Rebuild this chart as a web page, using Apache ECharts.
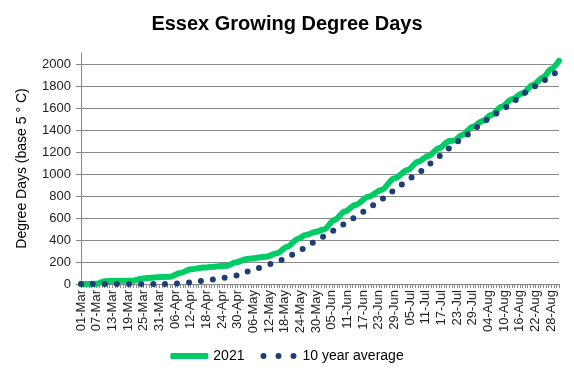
<!DOCTYPE html>
<html>
<head>
<meta charset="utf-8">
<script src="https://cdn.jsdelivr.net/npm/echarts@6/dist/echarts.min.js"></script>
<style>
  html, body { margin: 0; padding: 0; background: #fff; }
  #chart { width: 574px; height: 378px; }
</style>
</head>
<body>
<div id="chart"></div>
<script>
// x axis: every day 01-Mar .. 31-Aug
const months = ['Mar', 'Apr', 'May', 'Jun', 'Jul', 'Aug'];
const monthDays = [31, 30, 31, 30, 31, 31];
const categories = [];
months.forEach((m, i) => {
  for (let d = 1; d <= monthDays[i]; d++) {
    categories.push((d < 10 ? '0' + d : '' + d) + '-' + m);
  }
});

const yTicks = [0, 200, 400, 600, 800, 1000, 1200, 1400, 1600, 1800, 2000];

const dates2021 = ['01-Mar', '07-Mar', '10-Mar', '15-Mar', '21-Mar', '24-Mar', '29-Mar', '04-Apr', '08-Apr', '12-Apr',
  '17-Apr', '22-Apr', '26-Apr', '29-Apr', '04-May', '11-May', '15-May', '19-May', '23-May', '26-May',
  '30-May', '02-Jun', '06-Jun', '10-Jun', '14-Jun', '19-Jun', '24-Jun', '29-Jun', '04-Jul', '08-Jul',
  '12-Jul', '16-Jul', '20-Jul', '22-Jul', '25-Jul', '29-Jul', '02-Aug', '05-Aug', '09-Aug', '13-Aug',
  '17-Aug', '21-Aug', '25-Aug', '28-Aug', '31-Aug'];
const values2021 = [0, 2, 25, 28, 30, 48, 60, 66, 100, 133,
  150, 160, 167, 195, 230, 248, 279, 339, 410, 445,
  476, 495, 582, 658, 718, 794, 855, 961, 1036, 1112,
  1164, 1233, 1300, 1305, 1355, 1430, 1485, 1536, 1612, 1679,
  1733, 1809, 1879, 1955, 2030];

// 10 year average
const datesAvg = ['01-Mar', '31-Mar', '05-Apr', '08-Apr', '12-Apr', '16-Apr', '21-Apr', '25-Apr', '30-Apr', '04-May',
  '08-May', '13-May', '17-May', '21-May', '25-May', '29-May', '02-Jun', '06-Jun', '10-Jun', '14-Jun',
  '18-Jun', '22-Jun', '26-Jun', '29-Jun', '03-Jul', '07-Jul', '11-Jul', '14-Jul', '18-Jul', '21-Jul',
  '25-Jul', '29-Jul', '01-Aug', '05-Aug', '09-Aug', '13-Aug', '16-Aug', '20-Aug', '24-Aug', '28-Aug',
  '31-Aug'];
const valuesAvg = [0, 0, 2, 6, 15, 27, 42, 57, 78, 115,
  145, 183, 218, 267, 318, 376, 430, 487, 545, 604,
  665, 730, 795, 852, 920, 988, 1055, 1120, 1188, 1255,
  1324, 1391, 1455, 1515, 1582, 1642, 1709, 1770, 1833, 1894,
  1955];

const pairs = (ds, vs) => ds.map((d, i) => [d, vs[i]]);

const GREEN = '#00cc66';
const NAVY = '#1f3e73';
// legend icon: three dots
const dotsIcon = 'path://M0,2.5a2.5,2.5 0 1,0 5,0a2.5,2.5 0 1,0 -5,0' +
  'M12.5,2.5a2.5,2.5 0 1,0 5,0a2.5,2.5 0 1,0 -5,0' +
  'M25,2.5a2.5,2.5 0 1,0 5,0a2.5,2.5 0 1,0 -5,0';

var myChart = echarts.init(document.getElementById('chart'));
var option = {
  animation: false,
  title: {
    text: 'Essex Growing Degree Days',
    left: 'center',
    top: 9,
    textStyle: {
      fontFamily: 'Liberation Sans',
      fontWeight: 'bold',
      fontSize: 20,
      color: '#000'
    }
  },
  legend: {
    bottom: 10,
    left: 'center',
    itemWidth: 38,
    itemHeight: 6,
    itemGap: 16,
    textStyle: { fontFamily: 'Liberation Sans', fontSize: 14, color: '#000' },
    data: [
      { name: '2021', icon: 'roundRect', itemStyle: { color: GREEN } },
      { name: '10 year average', icon: dotsIcon, itemStyle: { color: NAVY } }
    ]
  },
  grid: { left: 81, right: 15, top: 53, bottom: 94 },
  xAxis: {
    type: 'category',
    data: categories,
    boundaryGap: false,
    axisLine: { lineStyle: { color: '#888', width: 1 } },
    axisTick: { interval: 0, length: 4, lineStyle: { color: '#888' } },
    axisLabel: {
      interval: 5,
      rotate: 90,
      fontFamily: 'Liberation Sans',
      fontSize: 13,
      color: '#222',
      margin: 6
    },
    splitLine: { show: false }
  },
  yAxis: {
    type: 'value',
    min: 0,
    max: 2100,
    interval: 200,
    name: 'Degree Days (base 5 ° C)',
    nameLocation: 'middle',
    nameGap: 52,
    nameTextStyle: { fontFamily: 'Liberation Sans', fontSize: 14, color: '#000' },
    axisLine: { show: true, lineStyle: { color: '#888' } },
    axisTick: { show: true, length: 5, lineStyle: { color: '#888' } },
    axisLabel: {
      fontFamily: 'Liberation Sans',
      fontSize: 13,
      color: '#222',
      margin: 10,
      showMaxLabel: false,
      formatter: v => (yTicks.indexOf(v) >= 0 ? v : '')
    },
    splitLine: { show: true, showMaxLine: false, lineStyle: { color: '#888', width: 1 } }
  },
  series: [
    {
      name: '2021',
      type: 'line',
      data: pairs(dates2021, values2021),
      smooth: 0.3,
      smoothMonotone: 'x',
      symbol: 'none',
      lineStyle: { color: GREEN, width: 6, cap: 'round' },
      itemStyle: { color: GREEN },
      z: 2
    },
    {
      name: '10 year average',
      type: 'line',
      data: pairs(datesAvg, valuesAvg),
      smooth: 0.3,
      smoothMonotone: 'x',
      symbol: 'none',
      lineStyle: { color: NAVY, width: 6, type: [0, 12], cap: 'round' },
      itemStyle: { color: NAVY },
      z: 3
    }
  ]
};
myChart.setOption(option);
</script>
</body>
</html>
